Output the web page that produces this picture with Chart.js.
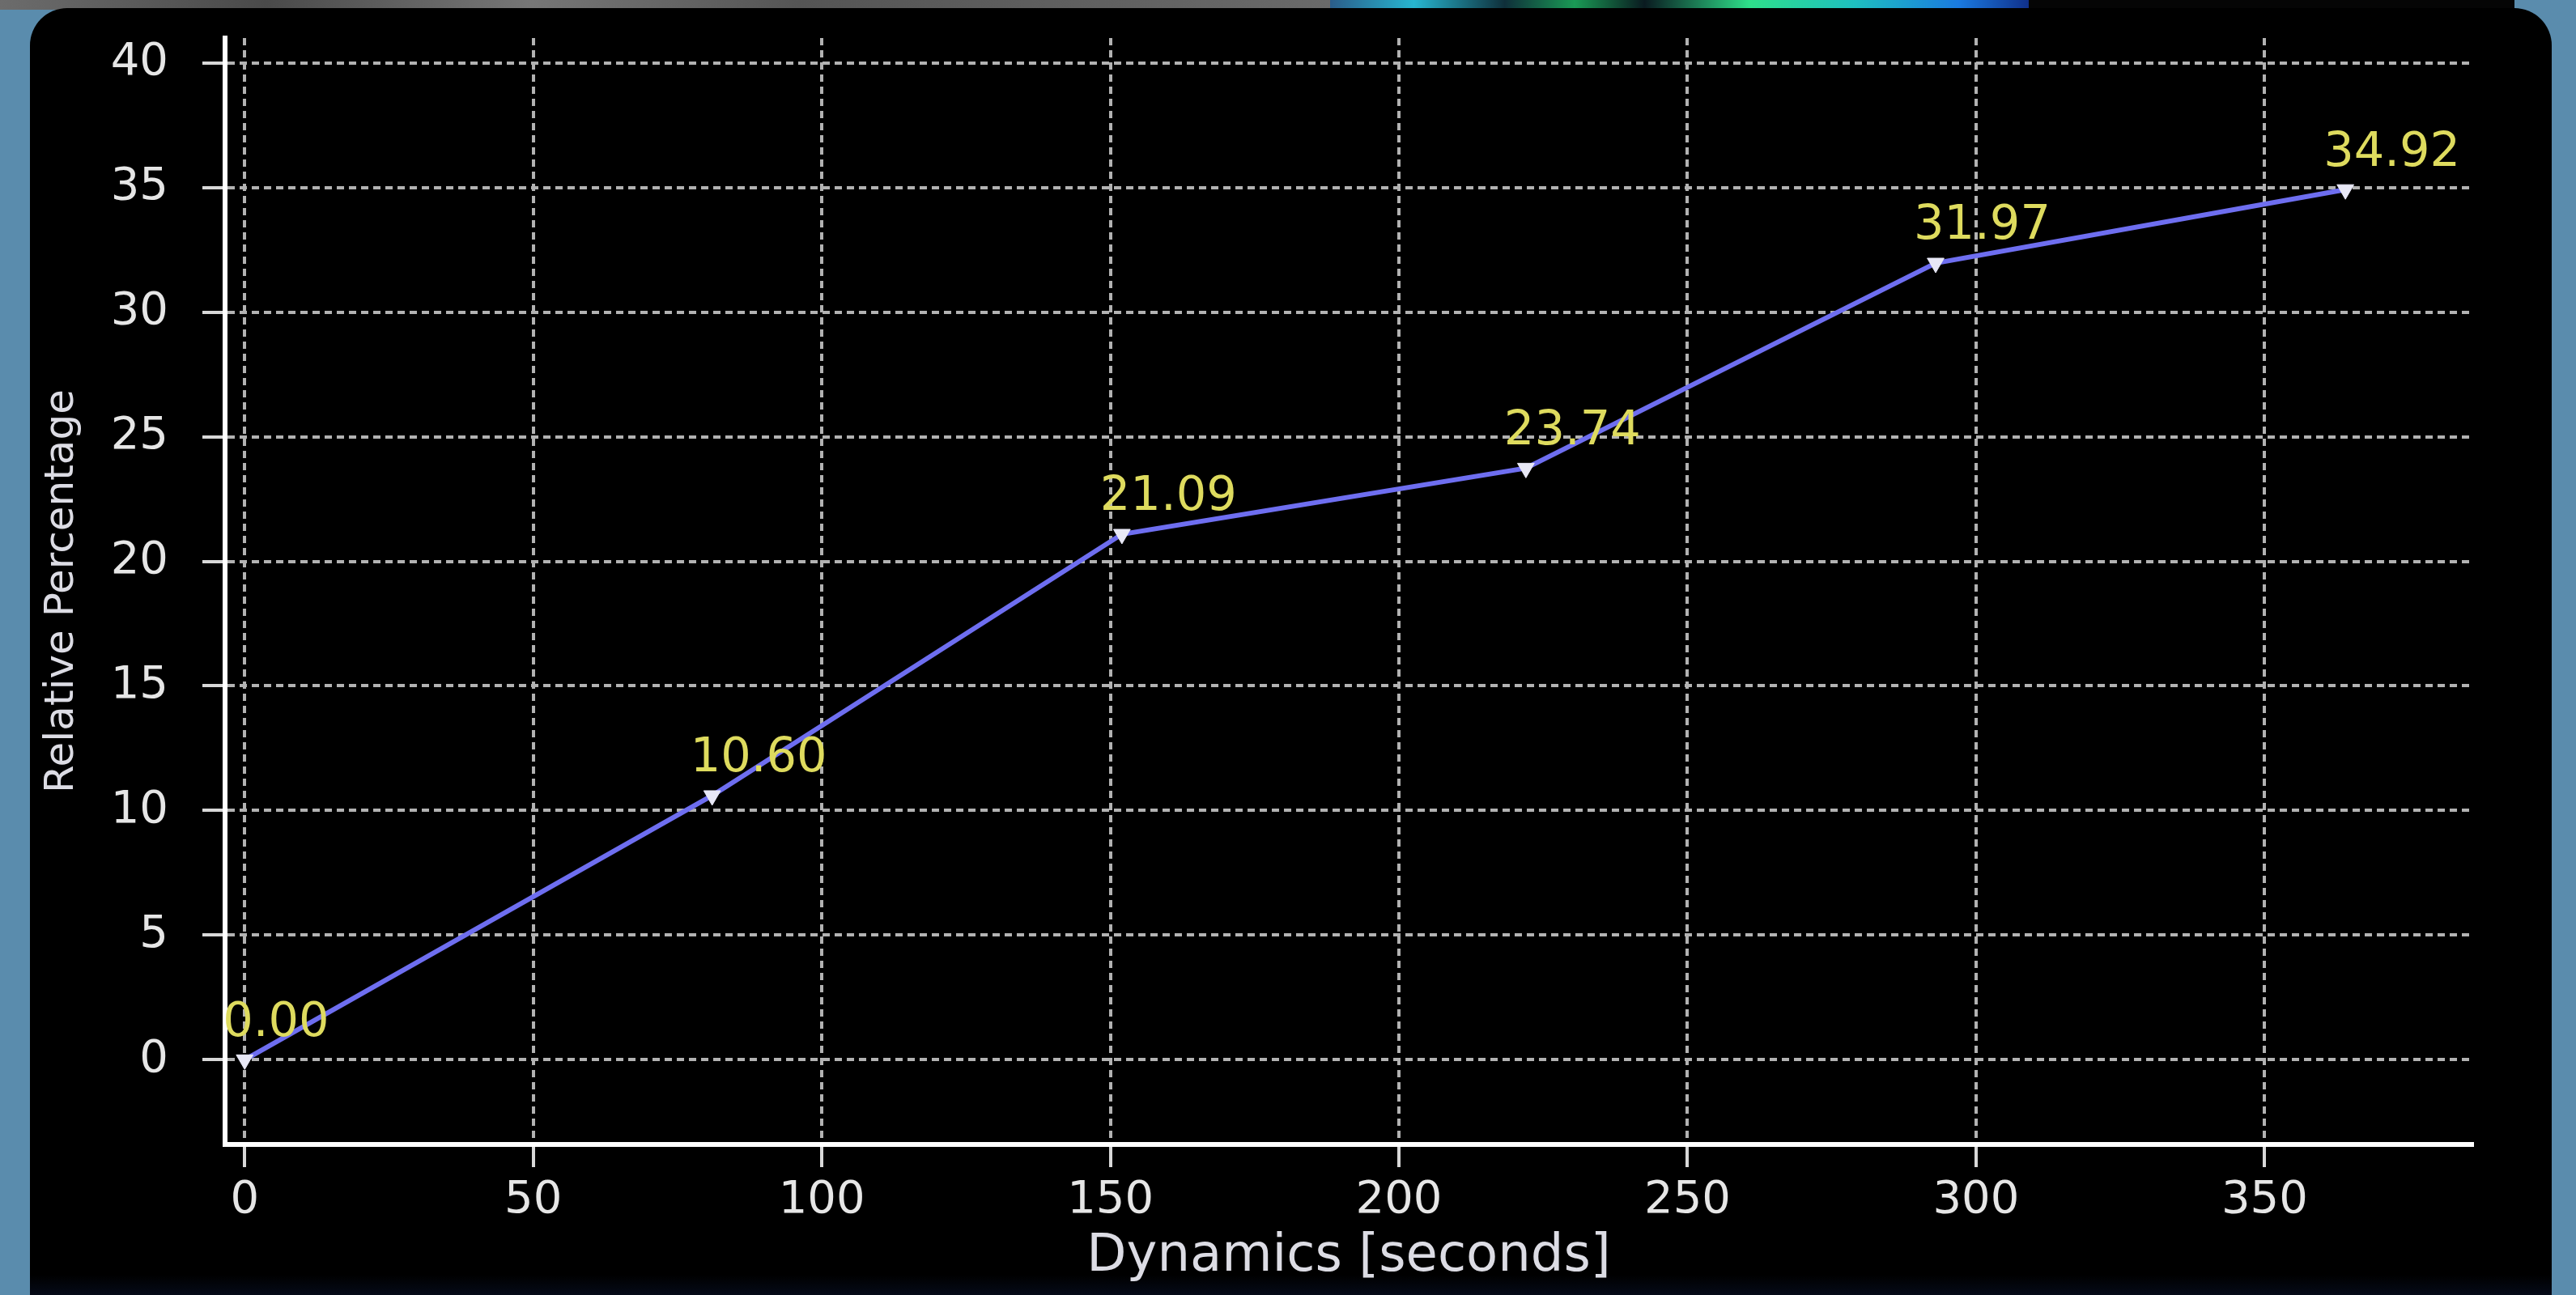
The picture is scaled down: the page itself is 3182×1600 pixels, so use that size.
<!DOCTYPE html>
<html>
<head>
<meta charset="utf-8">
<script src="https://cdn.jsdelivr.net/npm/chart.js@4.4.1/dist/chart.umd.min.js"></script>
<style>
  html, body { margin: 0; padding: 0; }
  body {
    width: 3182px; height: 1600px; overflow: hidden; position: relative;
    background: #5a8cad;
  }
  #topStrip {
    position: absolute; left: 0; top: 0; width: 1643px; height: 12px;
    background: linear-gradient(to right, #6c6c6c, #4a4a4a 20%, #777 40%, #555 60%, #6a6a6a);
  }
  #topColor {
    position: absolute; left: 1643px; top: 0; width: 863px; height: 11px;
    background: linear-gradient(to right, #2b5d8a, #27b6d0 12%, #0f2f3a 25%, #1a9a55 35%, #0a1a20 45%, #2ee08a 60%, #1ec0c0 75%, #1a7ae0 90%, #10308a);
  }
  #topDark {
    position: absolute; left: 2506px; top: 0; width: 600px; height: 12px;
    background: #050505;
  }
  #panel {
    position: absolute; left: 37px; top: 10px; width: 3115px; height: 1640px;
    background: #000; border-radius: 46px;
  }
  #panelBottom {
    position: absolute; left: 37px; top: 1575px; width: 3115px; height: 25px;
    background: linear-gradient(to bottom, #000, #050a18);
  }
  canvas { position: absolute; left: 0; top: 0; }
</style>
</head>
<body>
<div id="topStrip"></div>
<div id="topColor"></div>
<div id="topDark"></div>
<div id="panel"></div>
<div id="panelBottom"></div>
<canvas id="chart" width="3182" height="1600"></canvas>
<script>
// ---- DATA ----
const timeSec = [0, 81, 152, 222, 293, 364];
const relPct = [0.0, 10.6, 21.09, 23.74, 31.97, 34.92];
const xStep = 50;
const yStep = 5;

// ---- LABEL NILAI DI ATAS TITIK ----
const valueLabels = {
  id: "valueLabels",
  afterDatasetsDraw(chart) {
    const ctx = chart.ctx;
    const meta = chart.getDatasetMeta(0);
    ctx.save();
    ctx.font = '59px "DejaVu Sans"';
    ctx.fillStyle = "#dedb5e";
    ctx.textAlign = "left";
    ctx.textBaseline = "middle";
    meta.data.forEach((pt, i) => {
      ctx.fillText(relPct[i].toFixed(2), pt.x - 27, pt.y - 45);
    });
    ctx.restore();
  },
};

const gridOpts = {
  color: "#b2b2b2",
  lineWidth: 4,
  tickLength: 28,
  tickColor: "#d8d8d8",
  tickWidth: 4,
};

const ctx = document.getElementById("chart").getContext("2d");
new Chart(ctx, {
  type: "line",
  data: {
    datasets: [
      {
        label: "Relative Percentage",
        data: timeSec.map((t, i) => ({ x: t, y: relPct[i] })),
        borderColor: "#6e6ef0",
        borderWidth: 6,
        pointStyle: "triangle",
        rotation: 180,
        pointRadius: 12,
        pointBackgroundColor: "#e8e8f6",
        pointBorderColor: "#e8e8f6",
        pointBorderWidth: 1,
        tension: 0,
      },
    ],
  },
  options: {
    responsive: false,
    animation: false,
    layout: { padding: { left: 0, top: 47, right: 128, bottom: 0 } },
    plugins: {
      legend: { display: false },
      tooltip: { enabled: false },
    },
    scales: {
      x: {
        type: "linear",
        min: -3.4,
        max: 386,
        afterFit: (scale) => {
          scale.height = 186;
          scale.paddingLeft = 0;
          scale.paddingRight = 0;
        },
        ticks: {
          stepSize: xStep,
          includeBounds: false,
          color: "#e6e6e6",
          padding: 8,
          maxRotation: 0,
          font: { family: "DejaVu Sans", size: 56 },
        },
        grid: gridOpts,
        border: { display: true, color: "#ffffff", width: 6, dash: [9, 6] },
        title: {
          display: true,
          text: "Dynamics [seconds]",
          color: "#dcdce4",
          font: { family: "DejaVu Sans", size: 64 },
          padding: { top: 0, bottom: 8 },
        },
      },
      y: {
        type: "linear",
        min: -3.4,
        max: 41,
        afterFit: (scale) => {
          scale.width = 278;
          scale.paddingTop = 0;
          scale.paddingBottom = 0;
        },
        ticks: {
          stepSize: yStep,
          includeBounds: false,
          color: "#e6e6e6",
          padding: 42,
          font: { family: "DejaVu Sans", size: 56 },
        },
        grid: gridOpts,
        border: { display: true, color: "#ffffff", width: 6, dash: [9, 6] },
        title: {
          display: true,
          text: "Relative Percentage",
          color: "#dcdce4",
          font: { family: "DejaVu Sans", size: 50 },
          padding: { top: 47, bottom: 0 },
        },
      },
    },
  },
  plugins: [valueLabels],
});
</script>
</body>
</html>
